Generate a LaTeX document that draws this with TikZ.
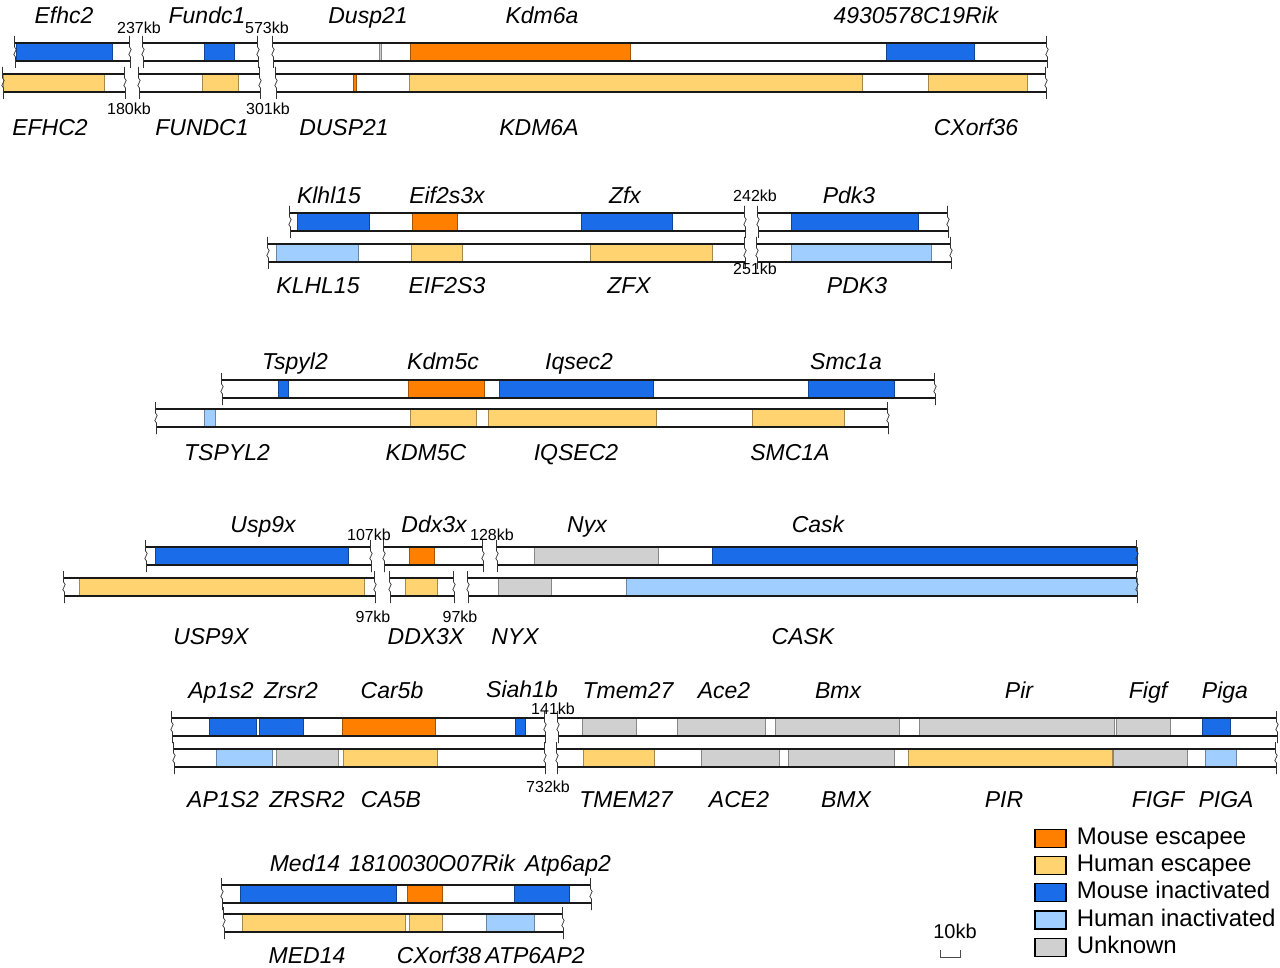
\documentclass[tikz,border=0pt]{standalone}
\usepackage{fontspec}
\setmainfont{Liberation Sans}
\usetikzlibrary{positioning}
\definecolor{mesc}{RGB}{255,128,0}
\definecolor{hesc}{RGB}{255,211,112}
\definecolor{minact}{RGB}{26,108,232}
\definecolor{hinact}{RGB}{160,206,255}
\definecolor{unk}{RGB}{208,208,208}
\begin{document}
\begin{tikzpicture}[x=1pt,y=-1pt,
        seg/.style={draw=#1!65!black,fill=#1,line width=0.8pt},
        barline/.style={line width=1.7pt,black!90},
        brk/.style={line width=0.7pt,black!80},
        gene/.style={font=\fontsize{23}{23}\selectfont\itshape,anchor=base,inner sep=0pt},
        kb/.style={font=\fontsize{16}{16}\selectfont,anchor=base,inner sep=0pt},
        legbox/.style={draw,line width=1.2pt,minimum width=31pt,minimum height=18pt,inner sep=0pt},
        legtext/.style={font=\fontsize{24}{24}\selectfont,inner sep=0pt,text height=17pt,text depth=5pt}]
        \useasboundingbox (0,0) rectangle (1280,968);

        % coloured segments
        \foreach \xa/\xb/\yt/\col in {16/112/43/minact,204/234/43/minact,379/381/43/unk,410/630/43/mesc,886/974/43/minact,
            3.5/104/74/hesc,202/238/74/hesc,353/356/74/mesc,409/862/74/hesc,928/1027/74/hesc,
            297/369/213/minact,412/457/213/mesc,581/672/213/minact,791/918/213/minact,
            276/358/244/hinact,411/462/244/hesc,590/712/244/hesc,791/931/244/hinact,
            278/288/380/minact,408/484/380/mesc,499/653/380/minact,808/894/380/minact,
            204/215/409/hinact,410/476/409/hesc,488/656/409/hesc,752/844/409/hesc,
            155/348/547/minact,409/434/547/mesc,534/658/547/unk,712/1137/547/minact,
            79/364/578/hesc,405/437/578/hesc,498/551/578/unk,626/1137/578/hinact,
            209/256/718/minact,259/303/718/minact,342/435/718/mesc,515/525/718/minact,582/636/718/unk,677/765/718/unk,775/899/718/unk,919/1114/718/unk,1116/1170/718/unk,1202/1230/718/minact,
            216/272/749/hinact,276/338/749/unk,343/437/749/hesc,583/654/749/hesc,701/779/749/unk,788/894/749/unk,908/1112/749/hesc,1113/1187/749/unk,1205/1236/749/hinact,
            240/396/885/minact,407/442/885/mesc,514/569/885/minact,
            242/405/914/hesc,409/442/914/hesc,486/534/914/hinact}{
            \draw[seg=\col] (\xa,\yt) rectangle (\xb,\yt+18);
        }

        % bars with broken ends
        \foreach \xa/\xb/\yt in {15/130/43,143/258/43,273/1047/43,3/125/74,139/260/74,276/1046/74,
            290/745/213,758/948/213,268/745/244,757/951/244,
            222/935/380,156/888/409,
            146/371/547,384/483/547,497/1137/547,64/375/578,390/454/578,468/1137/578,
            172/545/718,558/1277/718,174/545/749,557/1276/749,
            222/591/885,224/563/914}{
            \draw[barline] (\xa,\yt) -- (\xb,\yt) (\xa,\yt+18) -- (\xb,\yt+18);
            \foreach \xe in {\xa,\xb}
                \draw[brk] (\xe-0.5,\yt-7) -- (\xe-0.5,\yt+4) .. controls (\xe+5,\yt+7) and (\xe-5,\yt+11) .. (\xe+0.5,\yt+14) -- (\xe+0.5,\yt+25);
        }

        % mouse genes
        \foreach \x/\y/\lbl [count=\i] in {64/24/Efhc2,207/24/Fundc1,368/24/Dusp21,542/24/Kdm6a,916/24/4930578C19Rik,
            329/204/Klhl15,447/204/Eif2s3x,625/204/Zfx,849/204/Pdk3,
            295/370/Tspyl2,443/370/Kdm5c,579/370/Iqsec2,846/370/Smc1a,
            263/532/Usp9x,434/532/Ddx3x,587/532/Nyx,818/532/Cask,
            221/698/Ap1s2,291/698/Zrsr2,392/698/Car5b,522/697/Siah1b,628/698/Tmem27,724/698/Ace2,838/698/Bmx,1019/698/Pir,1148/698/Figf,1225/698/Piga,
            305/871/Med14,432/871/1810030O07Rik,568/871/Atp6ap2}{
            \node[gene] (m\i) at (\x,\y) {\lbl};
        }

        % human genes
        \foreach \x/\y/\lbl [count=\i] in {50/136/EFHC2,202/136/FUNDC1,344/136/DUSP21,539/136/KDM6A,976/136/CXorf36,
            318/294/KLHL15,447/294/EIF2S3,629/294/ZFX,857/294/PDK3,
            227/460/TSPYL2,426/460/KDM5C,576/460/IQSEC2,790/460/SMC1A,
            211/644/USP9X,426/644/DDX3X,515/644/NYX,803/644/CASK,
            223/807/AP1S2,307/807/ZRSR2,391/807/CA5B,626/807/TMEM27,739/807/ACE2,846/807/BMX,1004/807/PIR,1158/807/FIGF,1226/807/PIGA,
            307/963/MED14,439/963/CXorf38,535/963/ATP6AP2}{
            \node[gene] (h\i) at (\x,\y) {\lbl};
        }

        % gap sizes
        \foreach \x/\y/\lbl [count=\i] in {139/34/237kb,267/34/573kb,129/115/180kb,268/115/301kb,
            755/202/242kb,755/275/251kb,
            369/540/107kb,492/540/128kb,373/622/97kb,460/622/97kb,
            553/714/141kb,548/792/732kb}{
            \node[kb] (kb\i) at (\x,\y) {\lbl};
        }

        % legend
        \foreach \col/\lbl [count=\i] in {mesc/Mouse escapee,hesc/Human escapee,minact/Mouse inactivated,hinact/Human inactivated,unk/Unknown}{
            \node[legbox,fill=\col] (lb\i) at (1050.5,811+27.25*\i) {};
            \node[legtext,right=10pt of lb\i] (lt\i) {\lbl};
        }

        % scale
        \node[kb,font=\fontsize{20}{20}\selectfont] (scale) at (955,938) {10kb};
        \draw[line width=0.8pt,black!70] (940,950) -- (940,957) -- (960,957) -- (960,950);
    \end{tikzpicture}
\end{document}
